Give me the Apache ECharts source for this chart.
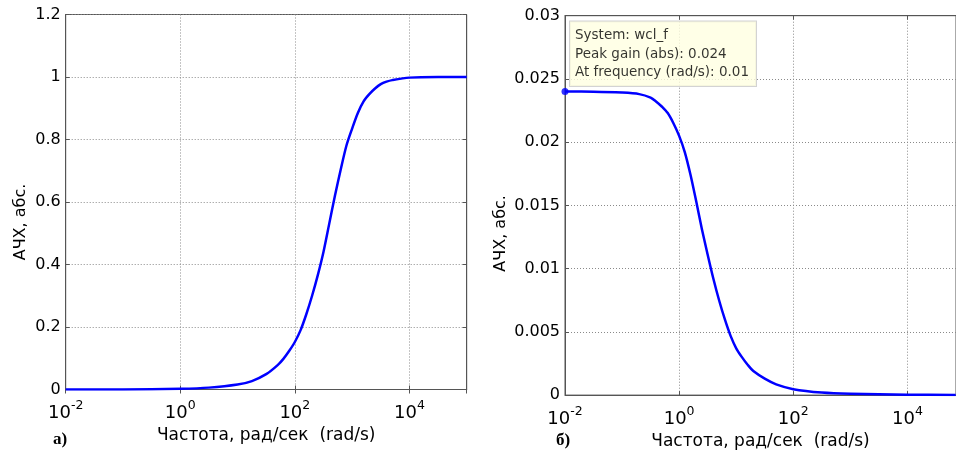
<!DOCTYPE html>
<html>
<head>
<meta charset="utf-8">
<script src="https://cdn.jsdelivr.net/npm/echarts@6/dist/echarts.min.js"></script>
<style>
html,body{margin:0;padding:0;background:#fff;}
#chart{width:956px;height:455px;}
</style>
</head>
<body>
<div id="chart"></div>
<script>
// ---- data ----
// plot a) high-pass magnitude
const freqA = [0.01, 0.1, 1, 3.16, 10, 17.8, 31.6, 50.1, 63.1, 79.4, 100, 126, 158, 200, 251, 316, 398, 501, 631, 794, 1000, 1259, 1585, 1995, 2512, 3162, 3981, 5012, 10000, 31623, 100000];
const gainA = [0.0, 0.0003, 0.0025, 0.006, 0.0157, 0.027, 0.049, 0.078, 0.098, 0.123, 0.152, 0.19, 0.24, 0.30, 0.365, 0.44, 0.53, 0.62, 0.703, 0.78, 0.835, 0.885, 0.922, 0.945, 0.963, 0.977, 0.985, 0.99, 0.998, 1.0, 1.0];
// plot б) low-pass magnitude
const freqB = [0.01, 0.0316, 0.1, 0.2, 0.316, 0.398, 0.501, 0.631, 0.794, 1, 1.259, 1.585, 1.995, 2.512, 3.162, 3.981, 5.012, 6.31, 7.943, 10, 12.59, 15.85, 19.95, 31.62, 50.12, 100, 316.2, 1000, 10000, 70000];
const gainB = [0.0240, 0.02399, 0.02392, 0.0238, 0.02352, 0.0232, 0.0228, 0.0223, 0.0215, 0.0205, 0.0192, 0.0174, 0.0153, 0.0131, 0.0111, 0.0092, 0.0075, 0.0060, 0.0047, 0.0037, 0.0030, 0.0024, 0.0019, 0.0013, 0.00085, 0.00047, 0.0002, 0.0001, 0.00003, 0.00001];
// axis ranges / ticks
const xMin = 0.01, xMaxA = 100000, xMaxB = 71000, xDecadeStep = 2;
const yMaxA = 1.2, yStepA = 0.2;
const yMaxB = 0.03, yStepB = 0.005;
// texts
const xTitle = 'Частота, рад/сек  (rad/s)';
const yTitle = 'АЧХ, абс.';
const panelA = 'а)', panelB = 'б)';
const tipSystem = 'wcl_f';

// ---- chart ----
const FONT = 'DejaVu Sans';
const gridColor = '#8a8a8a';
const boxColor = '#555';
const blue = '#0000ff';

function pairs(xs, ys){ return xs.map((x,i)=>[x, ys[i]]); }

function xAxisMain(gi, max, gap){
  return {
    type:'log', logBase:10, gridIndex:gi, min:xMin, max:max, interval:xDecadeStep,
    position:'bottom',
    name:xTitle, nameLocation:'middle', nameGap:gap,
    nameTextStyle:{fontFamily:FONT, fontSize:17, color:'#000'},
    axisLine:{show:true, lineStyle:{color:boxColor}},
    axisTick:{show:true, inside:true, length:4, lineStyle:{color:boxColor}},
    minorTick:{show:false},
    axisLabel:{
      margin:10, color:'#000', fontFamily:FONT, showMaxLabel:false,
      formatter:function(v){ const e=Math.round(Math.log10(v)); return '{b|10}{s|'+e+'}'; },
      rich:{ b:{fontSize:18, fontFamily:FONT, color:'#000', verticalAlign:'bottom'},
             s:{fontSize:12.5, fontFamily:FONT, color:'#000', padding:[0,0,10,0], verticalAlign:'bottom'} }
    },
    splitLine:{show:true, lineStyle:{color:gridColor, type:[1,2], width:1}}
  };
}
function xAxisTop(gi, max){
  return {
    type:'log', logBase:10, gridIndex:gi, min:xMin, max:max, interval:xDecadeStep,
    position:'top',
    axisLine:{show:true, lineStyle:{color:boxColor}},
    axisTick:{show:true, inside:true, length:4, lineStyle:{color:boxColor}},
    axisLabel:{show:false}, splitLine:{show:false}
  };
}
function yAxisMain(gi, max, step, gap, shift){
  return {
    type:'value', gridIndex:gi, min:0, max:max, interval:step, position:'left',
    name:yTitle, nameLocation:'middle', nameGap:gap, nameRotate:90,
    nameTextStyle:{fontFamily:FONT, fontSize:16, color:'#000', padding:[0, shift, 0, 0]},
    axisLine:{show:true, lineStyle:{color:boxColor}},
    axisTick:{show:true, inside:true, length:4, lineStyle:{color:boxColor}},
    axisLabel:{margin:5, color:'#000', fontFamily:FONT, fontSize:16},
    splitLine:{show:true, lineStyle:{color:gridColor, type:[1,2], width:1}}
  };
}
function yAxisRight(gi, max, step){
  return {
    type:'value', gridIndex:gi, min:0, max:max, interval:step, position:'right',
    axisLine:{show:true, lineStyle:{color:boxColor}},
    axisTick:{show:true, inside:true, length:4, lineStyle:{color:boxColor}},
    axisLabel:{show:false}, splitLine:{show:false}
  };
}

const option = {
  backgroundColor:'#fff',
  animation:false,
  grid:[
    {left:65.7, top:14.5, width:401, height:375, show:true, borderColor:boxColor, borderWidth:1, backgroundColor:'#fff', containLabel:false},
    {left:565, top:15.7, width:392, height:382, show:true, borderColor:boxColor, borderWidth:1, backgroundColor:'#fff', containLabel:false}
  ],
  xAxis:[ xAxisMain(0, xMaxA, 29), xAxisMain(1, xMaxB, 34), xAxisTop(0, xMaxA), xAxisTop(1, xMaxB) ],
  yAxis:[ yAxisMain(0, yMaxA, yStepA, 37, 40), yAxisMain(1, yMaxB, yStepB, 56, 56), yAxisRight(0, yMaxA, yStepA) ],
  series:[
    {type:'line', xAxisIndex:0, yAxisIndex:0, data:pairs(freqA, gainA), showSymbol:false, smooth:0.3,
     lineStyle:{color:blue, width:2.5, join:'round'}, itemStyle:{color:blue}},
    {type:'line', xAxisIndex:1, yAxisIndex:1, data:pairs(freqB, gainB), showSymbol:false, smooth:0.3,
     lineStyle:{color:blue, width:2.5, join:'round'}, itemStyle:{color:blue}},
    {type:'scatter', xAxisIndex:1, yAxisIndex:1, clip:false, z:10,
     data:[[freqB[0], gainB[0]]], symbolSize:7, itemStyle:{color:blue},
     label:{show:true, position:[8.5, -2], align:'left', verticalAlign:'bottom',
       formatter:function(p){ return 'System: '+tipSystem+'\nPeak gain (abs): '+p.value[1]+'\nAt frequency (rad/s): '+p.value[0]; },
       fontFamily:FONT, fontSize:13.5, lineHeight:18.5, color:'#000',
       backgroundColor:'#ffffe1', borderColor:'#c8c8c8', borderWidth:1, padding:[5,7,4,5]}
    }
  ],
  graphic:[
    {type:'text', left:53, top:431, style:{text:panelA, font:'bold 17px "Liberation Serif"', fill:'#000'}},
    {type:'text', left:556, top:432, style:{text:panelB, font:'bold 17px "Liberation Serif"', fill:'#000'}}
  ]
};
const chart = echarts.init(document.getElementById('chart'), null, {renderer:'canvas'});
chart.setOption(option);
</script>
</body>
</html>
